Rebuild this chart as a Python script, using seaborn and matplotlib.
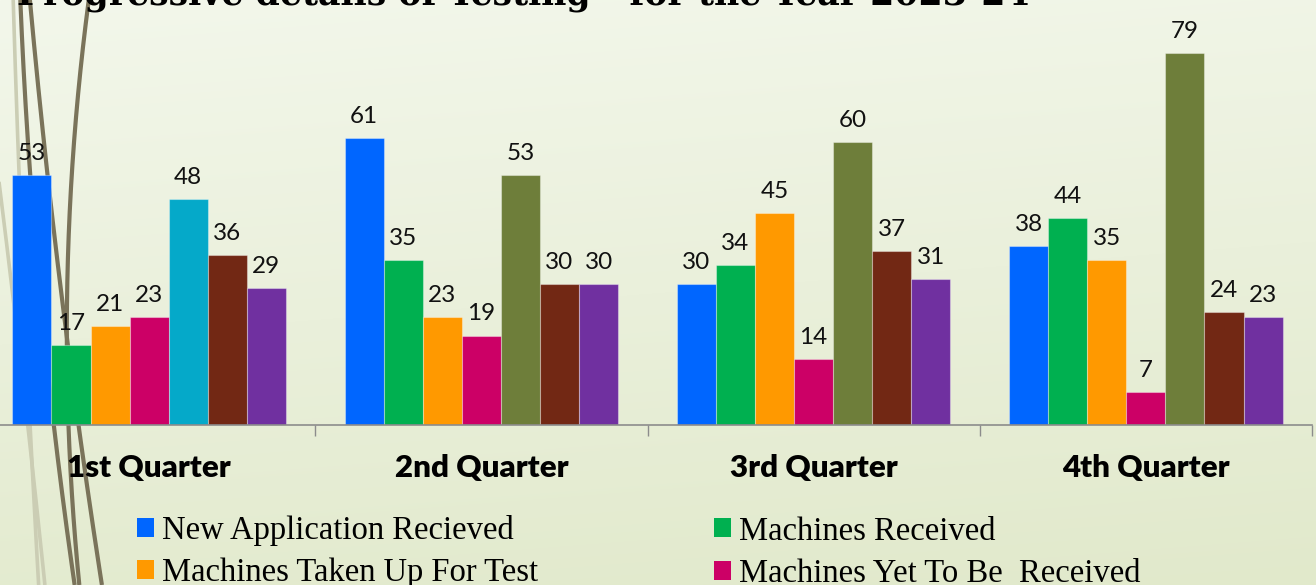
import numpy as np
import pandas as pd
import matplotlib
matplotlib.use("Agg")
import matplotlib.pyplot as plt
from matplotlib.patches import Patch
import seaborn as sns

# ---------------- data ----------------
quarters = ["1st Quarter", "2nd Quarter", "3rd Quarter", "4th Quarter"]
series_names = [
    "New Application Recieved",
    "Machines Received",
    "Machines Taken Up For Test",
    "Machines Yet To Be  Received",
    "Machines Tested",
    "Test Reports Issued",
    "Machines Under Testing",
]
new_application = [53, 61, 30, 38]
machines_received = [17, 35, 34, 44]
machines_taken_up = [21, 23, 45, 35]
machines_yet_to_receive = [23, 19, 14, 7]
machines_tested = [48, 53, 60, 79]
reports_issued = [36, 30, 37, 24]
under_testing = [29, 30, 31, 23]

series_values = [new_application, machines_received, machines_taken_up,
                 machines_yet_to_receive, machines_tested, reports_issued,
                 under_testing]
colors = ["#0066FF", "#00B050", "#FF9900", "#CC0066", "#6E7E3A", "#722814", "#7030A0"]
q1_special_color = "#05A9C9"

title_text = "Progressive details of Testing - for the Year 2023-24"

rows = []
for name, vals in zip(series_names, series_values):
    for q, v in zip(quarters, vals):
        rows.append({"quarter": q, "series": name, "value": v})
df = pd.DataFrame(rows)

# ---------------- figure ----------------
W, H = 1316, 585
fig = plt.figure(figsize=(W / 100, H / 100), dpi=100)

# background gradient + decorative curves
bg = fig.add_axes([0, 0, 1, 1], zorder=0)
yy, xx = np.mgrid[0:H, 0:W]
t = np.clip(0.85 * yy / H + 0.15 * xx / W, 0, 1)[..., None]
top = np.array([243, 247, 235]) / 255
bot = np.array([225, 233, 203]) / 255
bg.imshow(top * (1 - t) + bot * t, extent=[0, W, H, 0], aspect="auto")
bg.set_xlim(0, W)
bg.set_ylim(H, 0)
bg.axis("off")

ys = np.linspace(0, H, 200)
dark_curves = [
    [(20, 0), (31, 175), (53, 425), (75, 585)],
    [(30, 0), (47, 175), (63, 300), (78, 425), (102, 585)],
    [(88, 0), (75, 150), (67, 300), (67, 425), (80, 585)],
]
light_curves = [
    [(12, 0), (22, 175), (27, 425), (40, 585)],
    [(-4, 150), (10, 300), (31, 425), (44, 585)],
]
for pts, col, lw in ([(c, "#cbcdb4", 2.6) for c in light_curves] +
                     [(c, "#7a735a", 3.0) for c in dark_curves]):
    px, py = zip(*pts)
    coef = np.polyfit(py, px, 2)
    yr = ys[(ys >= min(py))]
    bg.plot(np.polyval(coef, yr), yr, color=col, lw=lw, solid_capstyle="butt")

# main axes
ax_left = -17 / W
ax_width = 1329 / W
ax_bottom = (H - 425) / H
ax_height = 80 * 4.71 / H
ax = fig.add_axes([ax_left, ax_bottom, ax_width, ax_height], zorder=1)
ax.patch.set_alpha(0)

sns.barplot(data=df, x="quarter", y="value", hue="series", order=quarters,
            hue_order=series_names, palette=colors, saturation=1,
            width=0.823, errorbar=None, legend=False, ax=ax,
            edgecolor=(1, 1, 1, 0.35), linewidth=0.8)

# first-quarter 5th bar has a different colour in the original
ax.containers[4].patches[0].set_facecolor(q1_special_color)

for cont in ax.containers:
    ax.bar_label(cont, padding=8, fontsize=17.5, family="Lato", fontweight="normal",
                 color="#111111")

ax.set_xlim(-0.5, 3.5)
ax.set_ylim(0, 80)
ax.set_xlabel("")
ax.set_ylabel("")
ax.set_yticks([])
for s in ["left", "right", "top"]:
    ax.spines[s].set_visible(False)
ax.spines["bottom"].set_color("#8c8c8c")
ax.spines["bottom"].set_linewidth(1.2)
ax.set_xticks(range(len(quarters)))
ax.set_xticklabels(quarters, fontsize=22.5, fontweight="heavy", family="Lato", color="black")
ax.set_xticks(np.arange(-0.5, len(quarters)), minor=True)
ax.tick_params(axis="x", which="major", length=0, pad=21)
ax.tick_params(axis="x", which="minor", length=8, width=1, color="#8c8c8c", direction="out")

# title (partly cut off at top, as in reference)
fig.text(17 / W, 1 - 5 / H, title_text, fontsize=25, fontweight="bold",
         family="DejaVu Serif", va="baseline", ha="left", color="black", zorder=5)

# legend: row-major, two columns
handles = [Patch(facecolor=c, edgecolor="none") for c in colors]
fs = 23.5
legend_kw = dict(loc="upper left", frameon=False, borderpad=0, borderaxespad=0,
                 handlelength=0.52, handleheight=0.52, handletextpad=0.26,
                 prop={"family": "Liberation Serif", "size": fs})
col1 = [0, 2, 4, 6]
col2 = [1, 3, 5]
fig.legend([handles[i] for i in col1], [series_names[i] for i in col1],
           bbox_to_anchor=(137 / W, 1 - 515 / H), labelspacing=0.35, **legend_kw)
fig.legend([handles[i] for i in col2], [series_names[i] for i in col2],
           bbox_to_anchor=(714 / W, 1 - 516 / H), labelspacing=0.36, **legend_kw)

fig.savefig("out.png", dpi=100)
